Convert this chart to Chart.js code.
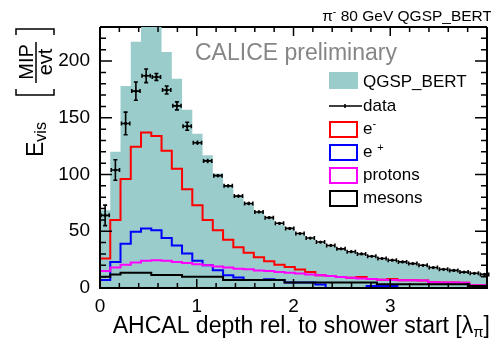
<!DOCTYPE html>
<html>
<head>
<meta charset="utf-8">
<script src="https://cdn.jsdelivr.net/npm/chart.js@4.4.1/dist/chart.umd.min.js"></script>
<style>
  html, body { margin: 0; padding: 0; background: #fff; }
  canvas { display: block; }
</style>
</head>
<body>
<canvas id="depthChart" width="491" height="338"></canvas>
<script>
// bin edges in units of lambda_pi (one AHCAL layer per bin)
const binEdges = [0, 0.106, 0.212, 0.318, 0.424, 0.53, 0.636, 0.742, 0.848, 0.954,
  1.06, 1.166, 1.272, 1.378, 1.484, 1.59, 1.696, 1.802, 1.908, 2.014,
  2.12, 2.226, 2.332, 2.438, 2.544, 2.65, 2.756, 2.862, 2.968, 3.074,
  3.18, 3.286, 3.392, 3.498, 3.604, 3.71, 3.816, 3.922, 4.028];

const dataVals = [64, 104, 145, 173.5, 187, 186, 174.5, 160.5, 142.5, 128,
  112, 99, 90, 81, 74.5, 67, 62, 57, 52.5, 48,
  44, 40.5, 37.5, 34.5, 32, 30, 28, 26, 24.5, 23,
  21.5, 20, 18, 16.5, 15.5, 14, 13, 12];
const dataErr = [9, 9, 10, 8, 6, 3, 3.5, 3.5, 3.5, 2,
  2, 1.5, 1.5, 1.5, 1.5, 1.2, 1.2, 1.2, 1, 1,
  1, 1, 1, 1, 1, 1, 1, 1, 1, 1,
  1, 1, 1, 1, 1, 1, 1, 1];

const mcTotal = [68.5, 120, 178, 217, 240, 236, 208, 184.5, 157, 136,
  117, 101, 90, 81, 74, 67, 61, 56, 51.5, 47,
  43, 39.5, 36.5, 33.5, 31, 29, 27, 25, 23.5, 22,
  20.5, 19, 17.5, 16, 15, 13.5, 12.5, 11.5];
const emNeg = [26, 60, 96, 124.5, 137, 134, 121, 105, 87, 73,
  60, 51, 42.5, 36, 31, 27, 23.5, 20.5, 18.5, 16.2,
  14.2, 11.2, 10.5, 9.7, 9, 9.6, 8, 7.3, 7.9, 6.8,
  6.8, 6.6, 5, 4.8, 4.8, 4.6, 2.5, 2.4];
const emPos = [7, 23, 39, 49.5, 52.5, 51, 44, 37.5, 30.5, 24,
  20, 15.6, 11.2, 9.2, 7, 7, 7.8, 7, 4.8, 4.8,
  4.8, 3, 0, 0, 0, 0, 1.8, 1.8, 1.8, 0,
  0, 0, 0, 0, 0, 0, 0, 0];
const protons = [15, 18, 20.5, 22.5, 24, 24.5, 24, 23, 22, 21,
  20, 19, 18, 17, 16.5, 15.5, 15, 14, 13.5, 12.7,
  12, 11.2, 10.5, 9.7, 9, 8.3, 8, 7.3, 7, 6.8,
  6.8, 6.6, 5, 4.8, 4.8, 4.6, 2.5, 2.4];
const mesons = [10, 12, 13.5, 13.5, 13.5, 11.5, 11.5, 11.5, 10, 10,
  10, 10, 7, 7, 7, 7, 7, 7, 4.8, 4.8,
  4.8, 4.8, 4.8, 4.8, 4.8, 4.8, 4.8, 3.2, 3.2, 3.2,
  3.2, 3.2, 3.2, 3.2, 3.2, 3.2, 1.8, 1.8];

const xTickLabels = [0, 1, 2, 3];
const yTickLabels = [0, 50, 100, 150, 200];

const FONT = "'Liberation Sans', Arial, Helvetica, sans-serif";
const TEAL = "#99cccb";

const stepPoints = (vals) =>
  binEdges.map((e, i) => ({ x: e, y: vals[Math.min(i, vals.length - 1)] }));
const binCenters = binEdges.slice(0, -1).map((e, i) => (e + binEdges[i + 1]) / 2);

const histLine = (label, vals, color, order) => ({
  type: "line",
  label,
  data: stepPoints(vals),
  stepped: true,
  borderColor: color,
  backgroundColor: color,
  borderWidth: 2,
  pointRadius: 0,
  fill: false,
  order,
});

// draws text with a raised or lowered small part: parts = [[text, size, dy], ...]
const drawParts = (ctx, parts, x, y) => {
  let cx = x;
  parts.forEach(([t, size, dy]) => {
    ctx.font = `${size}px ${FONT}`;
    ctx.fillText(t, cx, y + dy);
    cx += ctx.measureText(t).width;
  });
  return cx;
};
const partsWidth = (ctx, parts) => {
  let w = 0;
  parts.forEach(([t, size]) => {
    ctx.font = `${size}px ${FONT}`;
    w += ctx.measureText(t).width;
  });
  return w;
};

const decorations = {
  id: "decorations",
  beforeDatasetsDraw(chart) {
    const { ctx, chartArea: a } = chart;
    ctx.save();
    ctx.strokeStyle = "#000";
    ctx.lineWidth = 2;
    ctx.beginPath();
    ctx.moveTo(a.left, a.top);
    ctx.lineTo(a.right, a.top);
    ctx.stroke();
    ctx.restore();
  },
  afterDatasetsDraw(chart) {
    const { ctx, chartArea: a, scales } = chart;
    const xs = scales.x;
    const ys = scales.y;
    ctx.save();
    ctx.strokeStyle = "#000";

    // error bars of the data points
    ctx.lineWidth = 1.6;
    ctx.beginPath();
    dataVals.forEach((v, i) => {
      const x0 = xs.getPixelForValue(binEdges[i]);
      const x1 = xs.getPixelForValue(binEdges[i + 1]);
      const cx = xs.getPixelForValue(binCenters[i]);
      const cy = ys.getPixelForValue(v);
      const yLo = ys.getPixelForValue(v - dataErr[i]);
      const yHi = ys.getPixelForValue(v + dataErr[i]);
      ctx.moveTo(x0 + 1, cy);
      ctx.lineTo(x1 - 1, cy);
      ctx.moveTo(x0 + 1, cy - 2);
      ctx.lineTo(x0 + 1, cy + 2);
      ctx.moveTo(x1 - 1, cy - 2);
      ctx.lineTo(x1 - 1, cy + 2);
      ctx.moveTo(cx, yLo);
      ctx.lineTo(cx, yHi);
      if (yLo - yHi > 5) {
        ctx.moveTo(cx - 2, yLo);
        ctx.lineTo(cx + 2, yLo);
        ctx.moveTo(cx - 2, yHi);
        ctx.lineTo(cx + 2, yHi);
      }
    });
    ctx.stroke();

    // frame
    ctx.lineWidth = 2;
    ctx.beginPath();
    ctx.moveTo(a.left, a.top);
    ctx.lineTo(a.left, a.bottom);
    ctx.lineTo(a.right, a.bottom);
    ctx.lineTo(a.right, a.top);
    ctx.stroke();

    // ticks inside the frame
    ctx.lineWidth = 1.5;
    ctx.beginPath();
    for (let v = 0; v <= ys.max; v += 10) {
      const py = ys.getPixelForValue(v);
      const len = v % 50 === 0 ? 12 : 6;
      ctx.moveTo(a.left, py);
      ctx.lineTo(a.left + len, py);
      ctx.moveTo(a.right, py);
      ctx.lineTo(a.right - len, py);
    }
    for (let k = 0; k <= 20; k++) {
      const v = k * 0.2;
      const px = xs.getPixelForValue(v);
      const len = k % 5 === 0 ? 9 : 5;
      ctx.moveTo(px, a.bottom);
      ctx.lineTo(px, a.bottom - len);
      ctx.moveTo(px, a.top);
      ctx.lineTo(px, a.top + len);
    }
    ctx.stroke();
    ctx.restore();
  },
  afterDraw(chart) {
    const { ctx } = chart;
    ctx.save();
    ctx.fillStyle = "#000";
    ctx.textBaseline = "alphabetic";
    ctx.textAlign = "left";

    // title, top right
    const title = [["\u03c0", 15.5, 0], ["-", 10.5, -6], [" 80 GeV QGSP_BERT", 15.5, 0]];
    drawParts(ctx, title, 492 - partsWidth(ctx, title), 21);

    // preliminary label
    ctx.fillStyle = "#868686";
    ctx.font = `23px ${FONT}`;
    ctx.fillText("CALICE preliminary", 195, 60);

    // x axis title
    ctx.fillStyle = "#000";
    const xTitle = [["AHCAL depth rel. to shower start [\u03bb", 23, 0], ["\u03c0", 15, 4], ["]", 23, 0]];
    drawParts(ctx, xTitle, 490 - partsWidth(ctx, xTitle), 333);

    // y axis title (rotated)
    const rot = (x, y, fn) => {
      ctx.save();
      ctx.translate(x, y);
      ctx.rotate(-Math.PI / 2);
      fn();
      ctx.restore();
    };
    rot(43, 157, () => {
      drawParts(ctx, [["E", 23, 0], ["vis", 16, 3]], 0, 0);
    });
    ctx.lineWidth = 1.5;
    ctx.strokeStyle = "#000";
    ctx.beginPath();
    ctx.moveTo(16, 89); ctx.lineTo(16, 95); ctx.lineTo(54, 95); ctx.lineTo(54, 89);
    ctx.moveTo(16, 35); ctx.lineTo(16, 29); ctx.lineTo(54, 29); ctx.lineTo(54, 35);
    ctx.moveTo(36, 42); ctx.lineTo(36, 83);
    ctx.stroke();
    ctx.textAlign = "center";
    rot(33, 62, () => {
      ctx.font = `20px ${FONT}`;
      ctx.fillText("MIP", 0, 0);
    });
    rot(52, 62, () => {
      ctx.font = `20px ${FONT}`;
      ctx.fillText("evt", 0, 0);
    });
    ctx.textAlign = "left";

    // legend
    const lx = 329;
    const tx = 363;
    const fs = 17;
    ctx.fillStyle = TEAL;
    ctx.fillRect(lx, 72, 29, 17);
    ctx.fillStyle = "#000";
    ctx.font = `${fs}px ${FONT}`;
    ctx.fillText("QGSP_BERT", tx, 86.5);

    ctx.lineWidth = 1.5;
    ctx.beginPath();
    ctx.moveTo(lx, 106); ctx.lineTo(lx + 33, 106);
    ctx.moveTo(lx + 16, 104); ctx.lineTo(lx + 16, 108);
    ctx.stroke();
    ctx.fillText("data", tx, 110.5);

    const boxes = [
      [chart.data.datasets[4].borderColor, 121, [["e", fs, 0], ["-", 11, -7]]],
      [chart.data.datasets[3].borderColor, 144, [["e ", fs, 0], ["+", 11, -6]]],
      [chart.data.datasets[2].borderColor, 167, [["protons", fs, 0]]],
      [chart.data.datasets[1].borderColor, 190, [["mesons", fs, 0]]],
    ];
    ctx.lineWidth = 2;
    boxes.forEach(([color, top, parts]) => {
      ctx.strokeStyle = color;
      ctx.strokeRect(lx + 1, top + 1, 27, 15);
      ctx.fillStyle = "#000";
      drawParts(ctx, parts, tx, top + 12.5);
    });
    ctx.restore();
  },
};

new Chart(document.getElementById("depthChart"), {
  type: "line",
  data: {
    datasets: [
      {
        type: "scatter",
        label: "data",
        data: binCenters.map((x, i) => ({ x, y: dataVals[i] })),
        pointRadius: 1.6,
        pointBackgroundColor: "#000",
        pointBorderWidth: 0,
        order: 0,
      },
      histLine("mesons", mesons, "#000000", 1),
      histLine("protons", protons, "#ff00ff", 2),
      histLine("e+", emPos, "#0000ff", 3),
      histLine("e-", emNeg, "#ff0000", 4),
      {
        type: "line",
        label: "QGSP_BERT",
        data: stepPoints(mcTotal),
        stepped: true,
        borderWidth: 0,
        borderColor: TEAL,
        backgroundColor: TEAL,
        pointRadius: 0,
        fill: "origin",
        order: 5,
      },
    ],
  },
  options: {
    responsive: false,
    animation: false,
    devicePixelRatio: 1,
    layout: { padding: { top: 27, right: 1, left: 0, bottom: 0 } },
    plugins: {
      legend: { display: false },
      tooltip: { enabled: false },
    },
    scales: {
      x: {
        type: "linear",
        min: 0,
        max: 4,
        grid: { display: false, drawTicks: false },
        border: { display: false },
        afterBuildTicks: (s) => {
          s.ticks = xTickLabels.map((v) => ({ value: v }));
        },
        afterFit: (s) => {
          s.height = 50;
        },
        ticks: {
          color: "#000",
          padding: 7,
          maxRotation: 0,
          autoSkip: false,
          font: { family: FONT, size: 19 },
        },
      },
      y: {
        min: 0,
        max: 230,
        grid: { display: false, drawTicks: false },
        border: { display: false },
        afterBuildTicks: (s) => {
          s.ticks = yTickLabels.map((v) => ({ value: v }));
        },
        afterFit: (s) => {
          s.width = 100;
        },
        ticks: {
          color: "#000",
          padding: 10,
          font: { family: FONT, size: 19 },
        },
      },
    },
  },
  plugins: [decorations],
});
</script>
</body>
</html>
